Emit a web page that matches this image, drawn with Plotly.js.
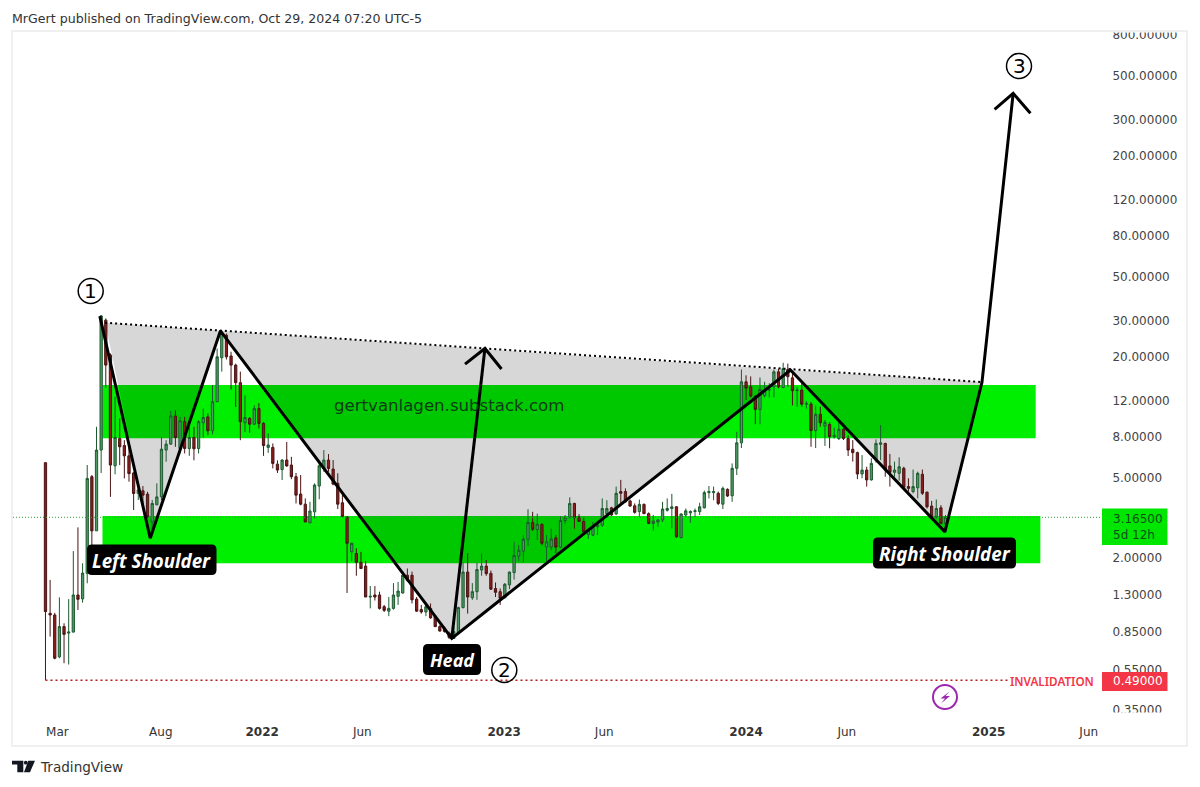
<!DOCTYPE html>
<html>
<head>
<meta charset="utf-8">
<script src="https://cdn.plot.ly/plotly-3.0.1.min.js"></script>
<style>html,body{margin:0;padding:0;background:#fff}#chart{width:1200px;height:787px}</style>
</head>
<body>
<div id="chart"></div>
<script>
const weeks = [
'2021-02-08','2021-02-15','2021-02-22','2021-03-01','2021-03-08','2021-03-15','2021-03-22','2021-03-29','2021-04-05','2021-04-12','2021-04-19','2021-04-26',
'2021-05-03','2021-05-10','2021-05-17','2021-05-24','2021-05-31','2021-06-07','2021-06-14','2021-06-21','2021-06-28','2021-07-05','2021-07-12','2021-07-19','2021-07-26',
'2021-08-02','2021-08-09','2021-08-16','2021-08-23','2021-08-30','2021-09-06','2021-09-13','2021-09-20','2021-09-27','2021-10-04','2021-10-11','2021-10-18','2021-10-25',
'2021-11-01','2021-11-08','2021-11-15','2021-11-22','2021-11-29','2021-12-06','2021-12-13','2021-12-20','2021-12-27',
'2022-01-03','2022-01-10','2022-01-17','2022-01-24','2022-01-31','2022-02-07','2022-02-14','2022-02-21','2022-02-28','2022-03-07','2022-03-14','2022-03-21','2022-03-28',
'2022-04-04','2022-04-11','2022-04-18','2022-04-25','2022-05-02','2022-05-09','2022-05-16','2022-05-23','2022-05-30','2022-06-06','2022-06-13','2022-06-20','2022-06-27',
'2022-07-04','2022-07-11','2022-07-18','2022-07-25','2022-08-01','2022-08-08','2022-08-15','2022-08-22','2022-08-29','2022-09-05','2022-09-12','2022-09-19','2022-09-26',
'2022-10-03','2022-10-10','2022-10-17','2022-10-24','2022-10-31','2022-11-07','2022-11-14','2022-11-21','2022-11-28','2022-12-05','2022-12-12','2022-12-19','2022-12-26',
'2023-01-02','2023-01-09','2023-01-16','2023-01-23','2023-01-30','2023-02-06','2023-02-13','2023-02-20','2023-02-27','2023-03-06','2023-03-13','2023-03-20','2023-03-27',
'2023-04-03','2023-04-10','2023-04-17','2023-04-24','2023-05-01','2023-05-08','2023-05-15','2023-05-22','2023-05-29','2023-06-05','2023-06-12','2023-06-19','2023-06-26',
'2023-07-03','2023-07-10','2023-07-17','2023-07-24','2023-07-31','2023-08-07','2023-08-14','2023-08-21','2023-08-28','2023-09-04','2023-09-11','2023-09-18','2023-09-25',
'2023-10-02','2023-10-09','2023-10-16','2023-10-23','2023-10-30','2023-11-06','2023-11-13','2023-11-20','2023-11-27','2023-12-04','2023-12-11','2023-12-18','2023-12-25',
'2024-01-01','2024-01-08','2024-01-15','2024-01-22','2024-01-29','2024-02-05','2024-02-12','2024-02-19','2024-02-26','2024-03-04','2024-03-11','2024-03-18','2024-03-25',
'2024-04-01','2024-04-08','2024-04-15','2024-04-22','2024-04-29','2024-05-06','2024-05-13','2024-05-20','2024-05-27','2024-06-03','2024-06-10','2024-06-17','2024-06-24',
'2024-07-01','2024-07-08','2024-07-15','2024-07-22','2024-07-29','2024-08-05','2024-08-12','2024-08-19','2024-08-26','2024-09-02','2024-09-09','2024-09-16','2024-09-23','2024-09-30',
'2024-10-07','2024-10-14','2024-10-21','2024-10-28'];

const openP = [
5.92,1.054,1.034,.64,.905,.84,.85,1.30,1.243,1.667,5.04,2.71,6.84,30.3,20.3,5.71,7.8,7.2,6.4,5.26,
4.16,4.29,4.13,3.0,3.65,4.0,6.84,7.32,10.1,6.96,9.46,6.96,7.9,6.96,9.35,10,8.53,11.9,19.7,25.5,
20.1,18.1,14.8,9.35,9.82,9.2,11,9.28,7.05,7.05,5.82,5.47,6.1,5.76,5.04,4.13,3.68,2.97,3.37,4.53,5.54,6.1,
5.5,4.67,3.74,3.18,2.13,2.09,1.89,1.81,1.27,1.3,1.3,1.137,1.08,1.115,1.28,1.33,1.63,1.63,1.24,1.1,
1.07,1.115,1.02,.905,.89,.84,.79,.84,1.125,1.69,1.26,1.35,1.73,1.81,1.665,1.4,1.35,1.26,1.46,1.68,
2.03,2.15,2.46,2.98,2.75,2.92,2.25,2.25,2.5,2.25,3.05,3.17,3.71,3.18,3.02,2.6,2.58,2.84,
2.89,3.3,3.53,3.29,4.25,4.25,3.82,3.61,3.38,3.67,3.3,2.95,3.0,3.07,3.43,3.5,3.57,2.51,3.25,3.33,
3.38,3.38,3.53,4.2,4.2,4.17,3.68,4.36,4.05,5.55,7.43,14.95,14.1,12.6,10.9,12.75,13.6,14.1,16.75,14,
17.2,15.65,13.5,13.6,11.57,11.57,8.55,10.3,9,9.18,7.97,7.8,8.67,7.8,6.9,6.64,5.2,5.44,4.86,6.1,
7.3,7.38,5.7,5.3,5.24,5.55,4.5,4.25,4.44,5.18,4.22,3.6,3.18,3.53,2.95];

const highP = [
5.92,1.545,1.06,1.265,.94,1.24,2.15,2.82,1.87,5.76,5.14,8.93,32.1,30.9,20.7,12.6,9.83,7.66,7.25,5.33,
4.49,4.53,4.24,3.86,4.67,7.96,7.66,10.7,10.8,10,10,8.93,8.93,9.63,11,10.4,14.4,21.9,26.5,26,
21.1,18.4,16.8,12.8,10,11.4,11.7,9.46,8.27,7.38,6.08,6.16,7.5,6.33,5.26,5.14,3.93,3.78,4.67,5.87,6.84,6.53,
6.1,5.24,4.17,3.2,2.36,2.22,2.13,1.92,1.44,1.44,1.35,1.16,1.27,1.49,1.51,1.7,1.76,1.7,1.27,1.16,
1.18,1.18,1.03,.92,.905,.855,.905,1.137,1.89,2.1,1.49,1.89,2.09,1.94,1.72,1.5,1.4,1.49,1.7,2.39,
2.3,2.58,3.47,3.37,3.3,2.95,2.58,2.78,2.58,3.2,3.25,3.98,3.74,3.28,3.18,2.78,3.0,2.95,
3.93,3.85,3.57,4.5,4.86,4.41,3.88,3.71,3.88,3.71,3.35,3.25,3.1,3.78,3.93,4.14,3.6,3.3,3.5,3.43,
3.5,3.74,4.3,4.53,4.5,4.25,4.5,4.41,5.87,8.43,17.2,16.1,15.9,12.85,15.7,14.95,14.7,17.2,17.4,18.6,
18.4,16.75,14.1,14.7,12,11.85,11.4,11.23,9.65,9.45,8.85,9.65,9.28,8.1,7.67,6.72,6.46,5.65,6.22,7.73,
9.1,7.43,6.54,5.99,6.29,5.65,4.95,5.47,5.34,5.47,4.25,3.82,3.88,3.64,3.25];

const lowP = [
.49,.807,.622,.63,.595,.586,.846,1.095,1.19,1.486,2.30,2.71,5.26,14,4.0,5.18,5.76,4.94,4.76,3.44,
3.86,3.51,3.13,2.73,3.65,3.86,5.98,7.25,7.1,6.58,6.58,6.4,6.08,6.58,7.9,8.1,8.2,11.9,16.8,19.3,
13.7,11.2,7.66,8.43,8.33,9.1,8.76,6.4,6.62,5.54,5.26,4.85,5.65,4.9,3.71,3.63,3.0,2.97,3.13,3.89,5.33,5.33,
4.57,3.48,3.17,1.33,1.92,1.62,1.76,1.27,1.115,1.22,1.1,1.07,1.02,1.1,1.16,1.32,1.51,1.18,1.07,1.05,
1.02,.99,.9,.855,.845,.785,.785,.84,1.115,1.05,1.23,1.23,1.62,1.62,1.376,1.27,1.16,1.25,1.39,1.55,
1.92,1.89,2.28,2.71,2.44,2.3,1.92,2.17,2.1,2.23,2.95,3.13,2.78,3.0,2.65,2.47,2.55,2.58,
2.84,3.25,3.22,3.25,3.71,3.75,3.57,3.3,3.18,3.29,2.93,2.72,2.84,3.0,3.38,2.79,2.51,2.49,3.18,2.97,
3.18,3.25,3.5,3.93,3.85,3.64,3.48,4.0,3.78,5.14,7.0,12.13,12.5,9.2,9.18,12.5,12.5,12.5,13.9,13.9,
14.1,11.4,11.23,11.23,11,7.1,7,8.93,7.17,6.98,7.8,7.67,7.67,6.39,5.99,4.9,4.95,4.5,4.82,5.92,
6.1,5.04,4.5,5.04,4.82,4.41,4.25,4.17,3.93,4.09,3.5,3.12,3.12,2.93,2.76];

const closeP = [
1.075,1.034,.63,.905,.828,.85,1.30,1.237,1.67,4.94,2.71,6.84,31.8,18.1,5.76,7.9,7.1,6.4,5.22,4.16,
4.33,4.08,3.19,3.71,4.0,6.91,7.32,10.1,7.9,9.56,6.96,7.9,6.94,9.46,9.93,8.53,11.9,19.9,26,19.9,
18.1,14.8,9.46,9.93,9.2,11,9.28,7.2,7.25,5.87,5.44,6.1,5.7,5.04,4.08,3.68,3.0,3.4,4.58,5.71,6.1,5.54,
4.63,3.68,3.2,2.35,2.35,1.89,1.76,1.27,1.28,1.27,1.115,1.09,1.115,1.3,1.36,1.63,1.54,1.23,1.08,1.07,
1.137,1.0,.905,.86,.855,.8,.855,1.125,1.69,1.27,1.35,1.74,1.81,1.66,1.39,1.34,1.25,1.47,1.69,2.04,
2.17,2.46,2.98,2.76,2.92,2.35,2.39,2.47,2.25,3.05,3.15,3.71,3.15,3.02,2.68,2.75,2.86,2.9,
3.5,3.5,3.25,4.17,4.17,3.78,3.6,3.35,3.67,3.3,2.95,3.03,3.07,3.48,3.5,3.57,2.53,3.29,3.41,3.38,
3.41,3.57,4.2,4.25,4.25,3.71,4.41,4.04,5.55,7.43,14.95,13.9,12.7,10.9,13.7,13.6,13.7,16.75,14.1,17.4,
15.85,13.5,13.6,11.57,11.65,8.55,10.3,9.35,9.39,7.97,8.1,8.67,7.8,6.84,6.64,5.2,5.44,4.86,5.87,7.38,
7.43,5.44,5.3,5.44,5.65,4.47,4.41,4.5,5.24,4.17,3.57,3.18,3.5,2.95,3.165];

const priceTicks = [800,500,300,200,120,80,50,30,20,12,8,5,2,1.3,.85,.55,.35];
const priceLabels = ['800.00000','500.00000','300.00000','200.00000','120.00000','80.00000','50.00000','30.00000','20.00000','12.00000','8.00000','5.00000','2.00000','1.30000','0.85000','0.55000','0.35000'];
const timeTicks = ['2021-02-26','2021-08-01','2022-01-01','2022-06-01','2023-01-01','2023-06-01','2024-01-01','2024-06-01','2025-01-01','2025-06-01'];
const timeLabels = ['Mar','Aug','<b>2022</b>','Jun','<b>2023</b>','Jun','<b>2024</b>','Jun','<b>2025</b>','Jun'];

const waveDates = ['2021-05-01','2021-07-16','2021-10-30','2022-10-14','2024-03-08','2024-10-27','2024-12-22','2025-02-07'];
const wavePrices = [31.75,2.49,26.8,.791,17.1,2.68,14.9,407];
const upperArrowDates = ['2025-01-10','2025-02-07','2025-03-05'];
const upperArrowPrices = [339,407,324];
const midDates = ['2022-10-14','2022-12-03'];
const midPrices = [.791,21.9];
const midHeadDates = ['2022-11-03','2022-12-03','2022-12-28'];
const midHeadPrices = [18.3,21.9,17.3];
const trendDates = ['2021-05-09','2024-12-22'];
const trendPrices = [29.4,14.9];
const invalidationDates = ['2021-02-08','2025-01-31'];
const invalidationPrices = [.49,.49];
const lastDates = ['2020-12-21','2025-06-18'];
const lastPrices = [3.165,3.165];

const L=13,T=32,W=1087,H=682;
const px=x=>(x-L)/W, py=y=>1-(y-T)/H;
const mono='"DejaVu Sans", sans-serif';
const inkLine={color:'#000',width:3};

const rr=(x0,y0,x1,y1,r)=>{
  const a=(x,y)=>px(x).toFixed(5)+','+py(y).toFixed(5);
  return 'M'+a(x0+r,y0)+' L'+a(x1-r,y0)+' Q'+a(x1,y0)+' '+a(x1,y0+r)+' L'+a(x1,y1-r)+' Q'+a(x1,y1)+' '+a(x1-r,y1)+' L'+a(x0+r,y1)+' Q'+a(x0,y1)+' '+a(x0,y1-r)+' L'+a(x0,y0+r)+' Q'+a(x0,y0)+' '+a(x0+r,y0)+' Z';
};
const pathPx=pts=>pts.map((p,i)=>(i?'L':'M')+px(p[0]).toFixed(5)+','+py(p[1]).toFixed(5)).join(' ')+' Z';
const paperRect=(x0,y0,x1,y1,extra)=>Object.assign({type:'rect',xref:'paper',yref:'paper',x0:px(x0),x1:px(x1),y0:py(y0),y1:py(y1),line:{width:0},fillcolor:'#fff',layer:'above'},extra||{});
const circle=(cx,cy,r,color,w)=>({type:'circle',xref:'paper',yref:'paper',x0:px(cx-r),x1:px(cx+r),y0:py(cy+r),y1:py(cy-r),line:{color:color,width:w},fillcolor:'rgba(0,0,0,0)',layer:'above'});
const blackBox=(x0,y0,x1,y1)=>({type:'path',xref:'paper',yref:'paper',path:rr(x0,y0,x1,y1,5),fillcolor:'#000',line:{width:0},layer:'above'});
const grey='rgba(0,0,0,0.155)';

const shapes=[
  {type:'rect',xref:'x',yref:'y',x0:'2021-05-05',x1:'2025-03-13',y0:7.82,y1:14.4,fillcolor:'#00ee00',line:{width:0},layer:'below'},
  {type:'rect',xref:'x',yref:'y',x0:'2021-05-05',x1:'2025-03-20',y0:1.87,y1:3.21,fillcolor:'#00ee00',line:{width:0},layer:'below'},
  {type:'path',xref:'x',yref:'y',path:'M2021-05-09,29.4 L2021-07-16,2.49 L2021-10-30,26.8 Z',fillcolor:grey,line:{width:0},layer:'below'},
  {type:'path',xref:'x',yref:'y',path:'M2021-10-30,26.8 L2022-10-14,0.791 L2024-03-08,17.1 Z',fillcolor:grey,line:{width:0},layer:'below'},
  {type:'path',xref:'x',yref:'y',path:'M2024-03-08,17.1 L2024-10-27,2.68 L2024-12-22,14.9 Z',fillcolor:grey,line:{width:0},layer:'below'},
  paperRect(1101,27,1186,32.5),
  paperRect(1101,712.5,1186,720),
  paperRect(12,31,1187,746,{fillcolor:'rgba(0,0,0,0)',line:{color:'#ebebeb',width:1.5}}),
  blackBox(87,544.5,216.5,575),
  blackBox(423,644,481,675),
  blackBox(873,537.5,1016,568.5),
  circle(90.7,291,12.5,'#000',1.5),
  circle(504.3,670,12.5,'#000',1.5),
  circle(1019,66,12.5,'#000',1.5),
  circle(945,697,12,'#9c27b0',2),
  {type:'path',xref:'paper',yref:'paper',path:pathPx([[949.5,691.5],[940.5,698.5],[945,698.5],[941,703.5],[950,696],[945.5,696]]),fillcolor:'#9c27b0',line:{width:0},layer:'above'},
  paperRect(1102,508.5,1167.5,545,{fillcolor:'#00e600'}),
  paperRect(1102,672,1167.5,691,{fillcolor:'#f23645'}),
  {type:'path',xref:'paper',yref:'paper',path:pathPx([[12,760.7],[23.3,760.7],[23.3,772.3],[17.3,772.3],[17.3,764.5],[12,764.5]]),fillcolor:'#131722',line:{width:0},layer:'above'},
  {type:'path',xref:'paper',yref:'paper',path:pathPx([[28.3,760.7],[35,760.7],[30,772.3],[24,772.3]]),fillcolor:'#131722',line:{width:0},layer:'above'},
  {type:'circle',xref:'paper',yref:'paper',x0:px(23.9),x1:px(27.7),y0:py(764.6),y1:py(760.8),fillcolor:'#131722',line:{width:0},layer:'above'}
];

const note=(text,x,y,size,color,extra)=>Object.assign({text:text,xref:'paper',yref:'paper',x:px(x),y:py(y),xanchor:'center',yanchor:'middle',showarrow:false,font:{family:mono,size:size,color:color}},extra||{});
const boxFont={family:'"Noto Sans", sans-serif',size:18.7,color:'#fff',weight:700,style:'italic'};
const annotations=[
  note('MrGert published on TradingView.com, Oct 29, 2024 07:20 UTC-5',12,18,12.6,'#333',{xanchor:'left',xshift:-2}),
  note('TradingView',40,767,13.6,'#333',{xanchor:'left',xshift:-2}),
  note('gertvanlagen.substack.com',449,406,16.6,'#0b3d17'),
  note('Left Shoulder',151.5,560,17,'#fff',{font:boxFont}),
  note('Head',452,660,17,'#fff',{font:Object.assign({},boxFont,{size:18})}),
  note('Right Shoulder',944.5,553,17,'#fff',{font:boxFont}),
  note('1',90.7,291,20,'#000'),
  note('2',504.3,670,20,'#000'),
  note('3',1019,66,20,'#000'),
  note('INVALIDATION',1052,681,11.7,'#f23645',{font:{family:'"Noto Sans", sans-serif',size:11.7,color:'#f23645',weight:600}}),
  note('0.49000',1111,681,12,'#fff',{xanchor:'left'}),
  note('3.16500',1111,519,12,'#0f4d1a',{xanchor:'left'}),
  note('5d 12h',1111,535,12,'#0f4d1a',{xanchor:'left'})
];

const traces=[
  {type:'candlestick',x:weeks,open:openP,high:highP,low:lowP,close:closeP,whiskerwidth:0,
   increasing:{line:{color:'#1d5a30',width:1},fillcolor:'#4f9a62'},
   decreasing:{line:{color:'#4a1414',width:1},fillcolor:'#8b1c1c'},hoverinfo:'skip'},
  {type:'scatter',mode:'lines',x:lastDates,y:lastPrices,line:{color:'#2e9e3e',width:1,dash:'1px,2px'},hoverinfo:'skip'},
  {type:'scatter',mode:'lines',x:invalidationDates,y:invalidationPrices,line:{color:'#b71c1c',width:1.5,dash:'2px,3px'},hoverinfo:'skip'},
  {type:'scatter',mode:'lines',x:trendDates,y:trendPrices,line:{color:'#000',width:2,dash:'2px,3px'},hoverinfo:'skip'},
  {type:'scatter',mode:'lines',x:waveDates,y:wavePrices,line:inkLine,hoverinfo:'skip'},
  {type:'scatter',mode:'lines',x:upperArrowDates,y:upperArrowPrices,line:inkLine,hoverinfo:'skip'},
  {type:'scatter',mode:'lines',x:midDates,y:midPrices,line:inkLine,hoverinfo:'skip'},
  {type:'scatter',mode:'lines',x:midHeadDates,y:midHeadPrices,line:inkLine,hoverinfo:'skip'}
];

const layout={
  width:1200,height:787,showlegend:false,paper_bgcolor:'#fff',plot_bgcolor:'#fff',
  margin:{l:L,r:1200-L-W,t:T,b:787-T-H,pad:0},
  font:{family:mono,size:12,color:'#444'},
  xaxis:{type:'date',range:['2020-12-21','2025-06-18'],rangeslider:{visible:false},showgrid:false,zeroline:false,showline:false,
    tickmode:'array',tickvals:timeTicks,ticktext:timeLabels,ticks:'outside',ticklen:7,tickcolor:'rgba(0,0,0,0)',tickfont:{family:mono,size:12,color:'#333'}},
  yaxis:{type:'log',side:'right',range:[-0.4782,2.915],showgrid:false,zeroline:false,showline:false,
    tickmode:'array',tickvals:priceTicks,ticktext:priceLabels,ticks:'outside',ticklen:9,tickcolor:'rgba(0,0,0,0)',tickfont:{family:mono,size:12,color:'#444'}},
  shapes:shapes,annotations:annotations
};
Plotly.newPlot('chart',traces,layout,{displayModeBar:false,staticPlot:true});
</script>
</body>
</html>
